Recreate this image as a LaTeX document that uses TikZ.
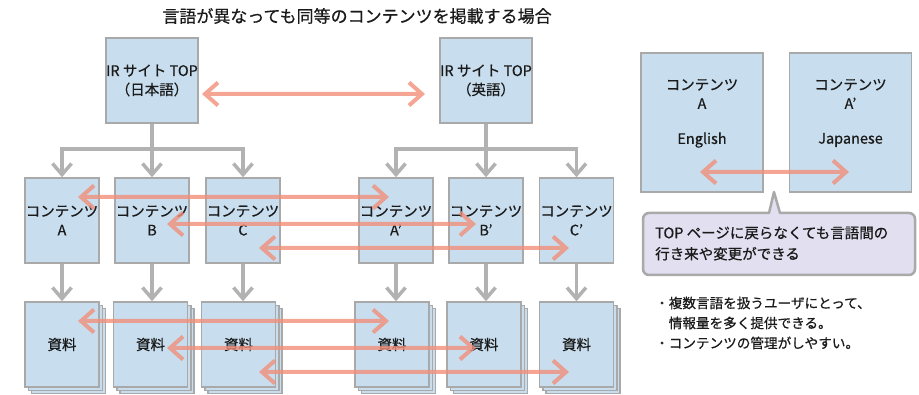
\documentclass[tikz,border=0pt]{standalone}
\usepackage{fontspec}
\setmainfont{Noto Sans CJK JP}[FakeBold=0.6]
\usetikzlibrary{arrows.meta,shadows}
\definecolor{boxblue}{HTML}{C8DEEE}
\definecolor{boxline}{HTML}{A9A9A9}
\definecolor{conn}{HTML}{B2B2B2}
\definecolor{salm}{HTML}{F18F79}
\definecolor{lav}{HTML}{E2DFF0}
\definecolor{txt}{HTML}{1A1A1A}
\begin{document}
\begin{tikzpicture}[x=1pt,y=-1pt,
 box/.style={draw=boxline, line width=1.5pt, fill=boxblue, minimum width=74pt, minimum height=85pt, inner sep=0pt, align=center, font=\fontsize{14.5}{19}\selectfont, text=txt},
 docbox/.style={box, double copy shadow={shadow xshift=3.3pt, shadow yshift=-3.3pt}},
 bigbox/.style={box, minimum width=122pt, minimum height=139pt},
 lbl/.style={inner sep=0pt, align=center, font=\fontsize{14.5}{19}\selectfont, text=txt},
 gline/.style={draw=conn, line width=3.5pt},
 garrow/.style={gline, -{Straight Barb[length=11pt,width=19pt]}},
 oarrow/.style={draw=salm, line width=4pt, {Straight Barb[length=13pt,width=23pt]}-{Straight Barb[length=13pt,width=23pt]}},
]
\useasboundingbox (0,0) rectangle (919,395);

% title
\node[inner sep=0pt, font=\fontsize{17}{20}\selectfont, text=txt] (title) at (357,16) {言語が異なっても同等のコンテンツを掲載する場合};

% top boxes
\node[box] (topjp) at (152,80.5) {IR サイト TOP\\（日本語）};
\node[box] (topen) at (486,80.5) {IR サイト TOP\\（英語）};

% contents row
\node[box] (ca)  at (62,220.5)  {コンテンツ\\A};
\node[box] (cb)  at (152,220.5) {コンテンツ\\B};
\node[box] (cc)  at (243,220.5) {コンテンツ\\C};
\node[box] (ca2) at (396,220.5) {コンテンツ\\A’};
\node[box] (cb2) at (486,220.5) {コンテンツ\\B’};
\node[box] (cc2) at (576.5,220.5) {コンテンツ\\C’};

% documents row
\node[docbox] (da)  at (62,344.5)    {資料};
\node[docbox] (db)  at (150.5,344.5) {資料};
\node[docbox] (dc)  at (238.5,344.5) {資料};
\node[docbox] (da2) at (392,344.5)   {資料};
\node[docbox] (db2) at (484,344.5)   {資料};
\node[docbox] (dc2) at (576.5,344.5) {資料};

% gray tree connectors
\coordinate (jbus) at (152,149);
\coordinate (ebus) at (486,149);
\draw[gline] (topjp.south) -- (jbus);
\draw[garrow] (jbus) -| (ca.north);
\draw[garrow] (jbus) -| (cc.north);
\draw[garrow] (topjp.south) -- (cb.north);
\draw[gline] (topen.south) -- (ebus);
\draw[garrow] (ebus) -| (ca2.north);
\draw[garrow] (ebus) -| (cc2.north);
\draw[garrow] (topen.south) -- (cb2.north);
\foreach \s/\t in {ca/da, cb/db, cc/dc, ca2/da2, cb2/db2, cc2/dc2}
  \draw[garrow] (\s.south) -- (\s.south |- \t.north);

% right panel
\node[bigbox] (ra) at (702,122.5) {};
\node[bigbox] (rb) at (850.5,122.5) {};
\node[lbl] (ratitle) at (702,94) {コンテンツ\\A};
\node[lbl] (rbtitle) at (850.5,94) {コンテンツ\\A’};
\node[lbl] (ralang) at (702,140) {English};
\node[lbl] (rblang) at (850.5,140) {Japanese};

% callout
\draw[draw=boxline, line width=2.5pt, fill=lav, line join=round]
  (780,275) [rounded corners=6pt] -- (643,275) -- (643,213) [sharp corners] -- (769,213) -- (774,192) -- (780,213) [rounded corners=6pt] -- (915,213) -- (915,275) -- cycle;
\node[lbl, anchor=west, align=left, font=\fontsize{14.5}{21}\selectfont] (callout) at (655,243.5) {TOP ページに戻らなくても言語間の\\行き来や変更ができる};

% notes
\node[inner sep=0pt, anchor=west, align=left, font=\fontsize{13.6}{20}\selectfont, text=txt] (notes) at (655,323) {・複数言語を扱うユーザにとって、\\\hphantom{・}情報量を多く提供できる。\\・コンテンツの管理がしやすい。};

% salmon arrows
\coordinate (t1) at (202,94);  \coordinate (t2) at (425,94);
\coordinate (a1) at (78,197);  \coordinate (a2) at (389,197);
\coordinate (b1) at (167,224); \coordinate (b2) at (476,224);
\coordinate (c1) at (259,248); \coordinate (c2) at (569,248);
\coordinate (d1) at (78,321);  \coordinate (d2) at (389,321);
\coordinate (e1) at (167,348); \coordinate (e2) at (476,348);
\coordinate (f1) at (259,372); \coordinate (f2) at (569,372);
\coordinate (r1) at (700,172); \coordinate (r2) at (849,172);
\begin{scope}[transparency group, opacity=0.8]
  \foreach \p/\q in {t1/t2, a1/a2, b1/b2, c1/c2, d1/d2, e1/e2, f1/f2, r1/r2}
    \draw[oarrow] (\p) -- (\q);
\end{scope}
\end{tikzpicture}
\end{document}
